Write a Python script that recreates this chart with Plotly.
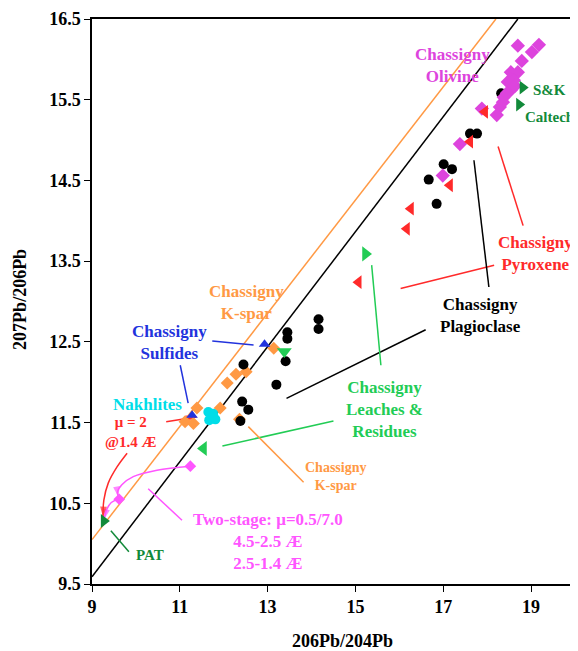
import plotly.graph_objects as go

FONT = "Liberation Serif, Times New Roman, serif"

# ---------------- data ----------------
plag_x = [18.32, 17.61, 17.77, 17.01, 17.20, 16.67, 16.85, 14.16, 14.16, 13.45, 13.45,
          13.41, 13.20, 12.45, 12.42, 12.56, 12.38]
plag_y = [15.58, 15.08, 15.08, 14.70, 14.64, 14.51, 14.21, 12.78, 12.66, 12.62, 12.54,
          12.26, 11.97, 12.22, 11.76, 11.66, 11.52]

oliv_x = [18.70, 19.18, 19.02, 18.79, 18.54, 18.70, 18.61, 18.47, 18.38, 18.36, 18.29,
          18.22, 17.88, 17.38, 16.99, 18.54, 18.45, 18.63]
oliv_y = [16.17, 16.18, 16.09, 15.98, 15.84, 15.84, 15.74, 15.72, 15.53, 15.47, 15.41,
          15.31, 15.39, 14.95, 14.56, 15.62, 15.58, 15.67]

pyx_x = [17.95, 17.61, 17.15, 16.26, 16.17, 15.07]
pyx_y = [15.35, 14.98, 14.44, 14.15, 13.90, 13.24]

leach_x = [15.23, 13.38, 11.54]
leach_y = [13.59, 12.38, 11.18]
leach_sym = ["triangle-right", "triangle-down", "triangle-left"]

ref_x = [18.81, 18.73, 9.27]          # S&K, Caltech, PAT
ref_y = [15.65, 15.44, 10.28]

sulf_x = [12.93, 11.28]
sulf_y = [12.47, 11.59]

kspar_x = [13.14, 12.51, 12.28, 12.08, 11.92, 11.39, 11.12, 11.31, 12.36]
kspar_y = [12.42, 12.13, 12.10, 11.99, 11.68, 11.68, 11.51, 11.49, 11.54]

nakh_x = [11.65, 11.74, 11.81, 11.67, 11.76]
nakh_y = [11.63, 11.57, 11.54, 11.53, 11.61]

twostage_pts_x = [11.24, 9.62]
twostage_pts_y = [10.96, 10.55]

# two-stage evolution arcs and mu=2 arrows
arc1_x = [11.24, 10.48, 9.94, 9.68, 9.58, 9.60]
arc1_y = [10.96, 10.91, 10.83, 10.73, 10.64, 10.58]
arc2_x = [9.60, 9.44, 9.34, 9.29, 9.27]
arc2_y = [10.55, 10.51, 10.43, 10.34, 10.30]
mu_arc_x = [9.80, 9.57, 9.37, 9.27, 9.25]
mu_arc_y = [11.12, 10.95, 10.75, 10.54, 10.33]
mu_arrow_x = [10.69, 11.05, 11.38]
mu_arrow_y = [11.51, 11.54, 11.57]

# reference lines (geochron-type)
black_line_x = [9.0, 18.70]
black_line_y = [9.59, 16.5]
orange_line_x = [9.0, 18.20]
orange_line_y = [10.05, 16.5]

# label leader lines: (x0, y0, x1, y1, colour)
leaders = [
    (18.25, 14.92, 18.82, 13.94, "#ff2a2a"),
    (16.03, 13.16, 18.16, 13.45, "#ff2a2a"),
    (17.70, 14.75, 18.04, 13.18, "black"),
    (13.43, 11.80, 16.60, 12.65, "black"),
    (15.37, 13.45, 15.58, 12.21, "#22cc55"),
    (11.97, 11.21, 14.50, 11.52, "#22cc55"),
    (12.56, 11.45, 13.82, 10.76, "#ff9944"),
    (11.74, 12.51, 12.68, 12.46, "#2233dd"),
    (11.01, 12.21, 11.19, 11.74, "#2233dd"),
    (10.28, 10.68, 11.05, 10.29, "#ff55ff"),
    (9.43, 10.16, 9.84, 9.90, "#128a3a"),
]

# labels: (x, y, text, colour, size)
labels = [
    (17.22, 15.92, "Chassigny<br>Olivine", "#dd44dd", 17),
    (19.41, 15.62, "S&amp;K", "#128a3a", 15),
    (19.43, 15.29, "Caltech", "#128a3a", 15),
    (19.11, 13.59, "Chassigny<br>Pyroxene", "#ff2a2a", 17),
    (17.84, 12.83, "Chassigny<br>Plagioclase", "black", 17),
    (12.51, 12.99, "Chassigny<br>K-spar", "#ff9944", 17),
    (10.77, 12.49, "Chassigny<br>Sulfides", "#2233dd", 17),
    (15.67, 11.66, "Chassigny<br>Leaches &amp;<br>Residues", "#22cc55", 17),
    (10.26, 11.73, "Nakhlites", "#00dde8", 17),
    (9.87, 11.38, "μ = 2<br>@1.4 Æ", "#ff2a2a", 15),
    (14.54, 10.83, "Chassigny<br>K-spar", "#ff9944", 14),
    (13.02, 10.03, "Two-stage: μ=0.5/7.0<br>4.5-2.5 Æ<br>2.5-1.4 Æ", "#ff55ff", 17),
    (10.32, 9.86, "PAT", "#128a3a", 15),
]

x_ticks = [9, 11, 13, 15, 17, 19]
y_ticks = [9.5, 10.5, 11.5, 12.5, 13.5, 14.5, 15.5, 16.5]

# ---------------- figure ----------------
fig = go.Figure()

fig.add_trace(go.Scatter(x=black_line_x, y=black_line_y, mode="lines",
                         line=dict(color="black", width=1.5), hoverinfo="skip"))
fig.add_trace(go.Scatter(x=orange_line_x, y=orange_line_y, mode="lines",
                         line=dict(color="#ff9944", width=1.5), hoverinfo="skip"))

for x0, y0, x1, y1, c in leaders:
    fig.add_trace(go.Scatter(x=[x0, x1], y=[y0, y1], mode="lines",
                             line=dict(color=c, width=1.5), hoverinfo="skip"))


def arrow_curve(xs, ys, color):
    n = len(xs)
    fig.add_trace(go.Scatter(
        x=xs, y=ys, mode="lines+markers", line=dict(color=color, width=1.5, shape="spline"),
        marker=dict(symbol="arrow", angleref="previous", color=color,
                    size=[0] * (n - 1) + [11], line=dict(width=0)),
        hoverinfo="skip"))


arrow_curve(arc1_x, arc1_y, "#ff55ff")
arrow_curve(arc2_x, arc2_y, "#ff55ff")
arrow_curve(mu_arc_x, mu_arc_y, "#ff2a2a")
arrow_curve(mu_arrow_x, mu_arrow_y, "#ff2a2a")

fig.add_trace(go.Scatter(x=kspar_x, y=kspar_y, mode="markers",
                         marker=dict(symbol="diamond", size=10, color="#ff9944")))
fig.add_trace(go.Scatter(x=nakh_x, y=nakh_y, mode="markers",
                         marker=dict(symbol="circle", size=10, color="#00dde8")))
fig.add_trace(go.Scatter(x=plag_x, y=plag_y, mode="markers",
                         marker=dict(symbol="circle", size=10, color="black")))
fig.add_trace(go.Scatter(x=oliv_x, y=oliv_y, mode="markers",
                         marker=dict(symbol="diamond", size=11, color="#dd44dd")))
fig.add_trace(go.Scatter(x=pyx_x, y=pyx_y, mode="markers",
                         marker=dict(symbol="triangle-left", size=12, color="#ff2a2a")))
fig.add_trace(go.Scatter(x=leach_x, y=leach_y, mode="markers",
                         marker=dict(symbol=leach_sym, size=13, color="#22cc55")))
fig.add_trace(go.Scatter(x=ref_x, y=ref_y, mode="markers",
                         marker=dict(symbol="triangle-right", size=12, color="#128a3a")))
fig.add_trace(go.Scatter(x=sulf_x, y=sulf_y, mode="markers",
                         marker=dict(symbol="triangle-up", size=10, color="#2233dd")))
fig.add_trace(go.Scatter(x=twostage_pts_x, y=twostage_pts_y, mode="markers",
                         marker=dict(symbol="diamond", size=9, color="#ff55ff")))

annotations = []
for x, y, t, c, s in labels:
    annotations.append(dict(x=x, y=y, xref="x", yref="y", text=t, showarrow=False,
                            font=dict(family=FONT, size=s, color=c, weight="bold"),
                            align="center", xanchor="center", yanchor="middle"))

# axis titles
annotations.append(dict(x=0.515, y=-0.1, xref="paper", yref="paper",
                        text="206Pb/204Pb", showarrow=False,
                        font=dict(family=FONT, size=18, color="black", weight="bold"),
                        xanchor="center", yanchor="middle"))
annotations.append(dict(x=-0.148, y=0.503, xref="paper", yref="paper",
                        text="207Pb/206Pb", showarrow=False, textangle=-90,
                        font=dict(family=FONT, size=18, color="black", weight="bold"),
                        xanchor="center", yanchor="middle"))

# the page adds an 8 px body margin, so the figure is 8 px smaller each way
fig.update_layout(
    width=570, height=643,
    margin=dict(l=84, r=0, t=11, b=67),
    plot_bgcolor="white", paper_bgcolor="white",
    showlegend=False,
    annotations=annotations,
    font=dict(family=FONT),
)
fig.update_xaxes(range=[9, 20.07], tickvals=x_ticks, ticktext=[str(v) for v in x_ticks],
                 showgrid=False, zeroline=False, showline=True, linecolor="black",
                 linewidth=1.5, mirror=True, ticks="outside", ticklen=6, tickcolor="black",
                 tickfont=dict(family=FONT, size=18, color="black", weight="bold"))
fig.update_yaxes(range=[9.5, 16.5], tickvals=y_ticks, ticktext=[f"{v:.1f}" for v in y_ticks],
                 showgrid=False, zeroline=False, showline=True, linecolor="black",
                 linewidth=1.5, ticks="outside", ticklen=6, tickcolor="black",
                 tickfont=dict(family=FONT, size=18, color="black", weight="bold"))

fig.write_html("out.html")
